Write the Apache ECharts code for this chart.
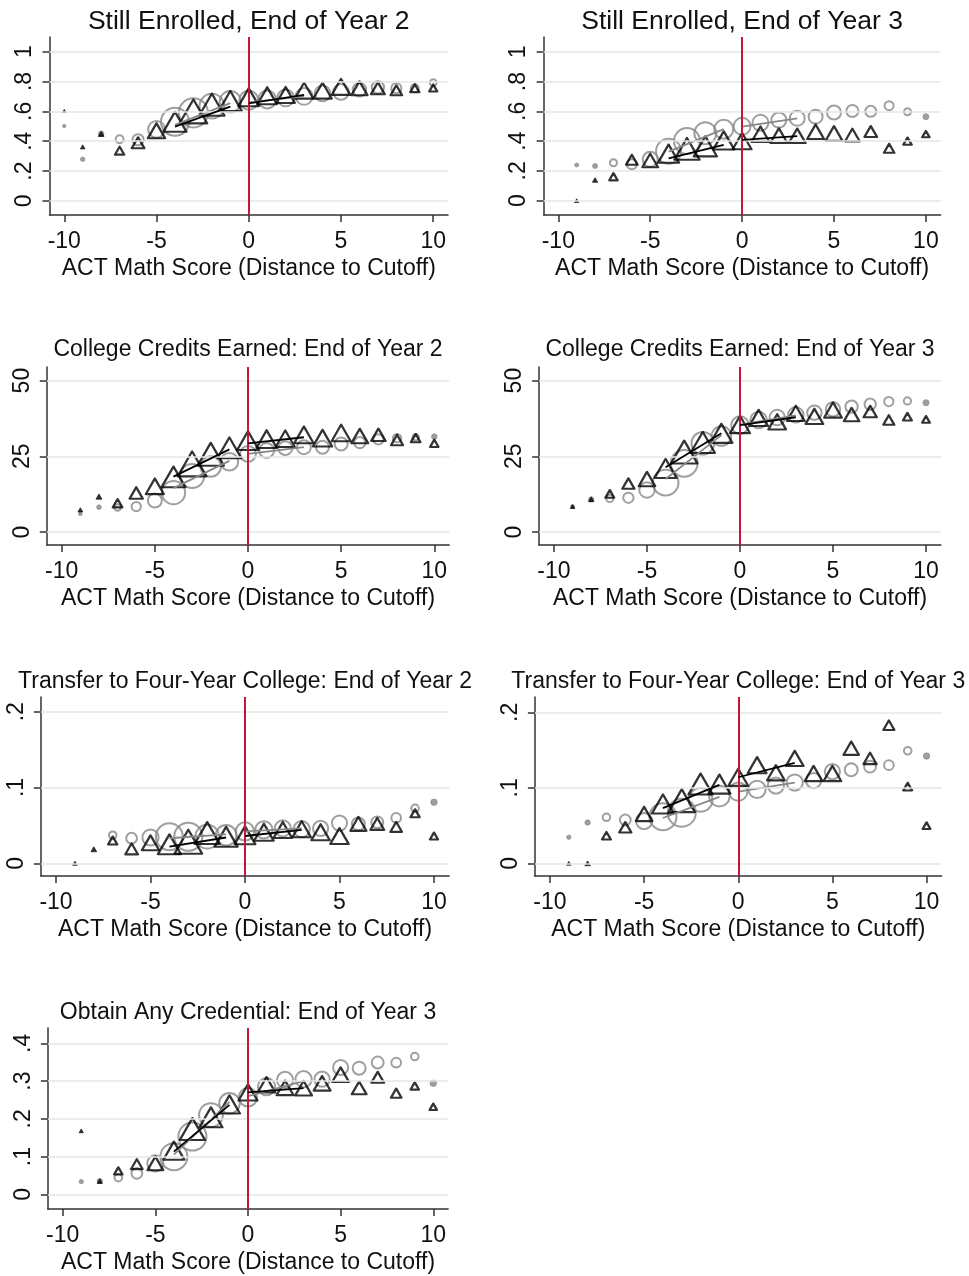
<!DOCTYPE html>
<html><head><meta charset="utf-8">
<script src="https://cdn.jsdelivr.net/npm/echarts@6/dist/echarts.min.js"></script>
<style>html,body{margin:0;padding:0;background:#fff}#c{width:969px;height:1276px}</style>
</head><body><div id="c"></div>
<script>
// ---------------- data ----------------
const xs = [-10,-9,-8,-7,-6,-5,-4,-3,-2,-1,0,1,2,3,4,5,6,7,8,9,10];
const xTicks = [-10,-5,0,5,10];
const xTitle = 'ACT Math Score (Distance to Cutoff)';
const fitX = [-4,-1,0,3];

const titles = [
  'Still Enrolled, End of Year 2',
  'Still Enrolled, End of Year 3',
  'College Credits Earned: End of Year 2',
  'College Credits Earned: End of Year 3',
  'Transfer to Four-Year College: End of Year 2',
  'Transfer to Four-Year College: End of Year 3',
  'Obtain Any Credential: End of Year 3'
];

const yTicksEnroll = [0,0.2,0.4,0.6,0.8,1];
const yLabelsEnroll = ['0','.2','.4','.6','.8','1'];
const yTicksCredits = [0,25,50];
const yLabelsCredits = ['0','25','50'];
const yTicksTransfer = [0,0.1,0.2];
const yLabelsTransfer = ['0','.1','.2'];
const yTicksCred = [0,0.1,0.2,0.3,0.4];
const yLabelsCred = ['0','.1','.2','.3','.4'];

// relative marker sizes (bin weights)
const triW  = [3,4,5,8,11,15,20,24,22,20,18,17,16,16,16,16,14,12,10,8,7];
const circW = [3,4,5,7,10,15,25,26,22,19,17,16,15,15,14,14,12,11,9,7,6];

// Panel 1: Still enrolled, Y2
const triY1  = [0.603,0.362,0.449,0.337,0.39,0.47,0.53,0.60,0.645,0.67,0.695,0.705,0.71,0.739,0.739,0.764,0.755,0.755,0.741,0.755,0.757];
const circY1 = [0.502,0.279,0.45,0.413,0.41,0.48,0.53,0.59,0.635,0.665,0.675,0.68,0.69,0.70,0.72,0.73,0.745,0.761,0.755,0.755,0.792];
const fitTri1 = [0.498,0.632,0.654,0.71];
const fitCirc1 = [0.51,0.655,0.66,0.70];
// Panel 2: Still enrolled, Y3
const triY2  = [null,0.0,0.139,0.161,0.275,0.27,0.316,0.348,0.365,0.405,0.40,0.447,0.437,0.436,0.463,0.452,0.441,0.465,0.352,0.40,0.447];
const circY2 = [null,0.24,0.233,0.255,0.245,0.278,0.332,0.40,0.452,0.48,0.499,0.523,0.541,0.553,0.564,0.592,0.602,0.60,0.638,0.597,0.564];
const fitTri2 = [0.284,0.374,0.408,0.434];
const fitCirc2 = [0.33,0.48,0.497,0.553];
// Panel 3: Credits, Y2
const triY3  = [null,7.3,11.7,9.5,12.9,15.1,18.2,22.5,25.7,27.8,30.2,30.7,30.8,32.1,31.0,32.7,31.7,32.1,30.4,31.0,29.3];
const circY3 = [null,6.0,8.2,8.1,8.4,10.4,13.0,18.5,21.6,23.2,25.8,26.9,27.7,28.0,28.0,29.1,29.5,30.6,31.0,31.3,31.5];
const fitTri3 = [18.3,27.3,29.3,31.3];
const fitCirc3 = [14.5,23.5,25.8,28.0];
// Panel 4: Credits, Y3
const triY4  = [null,8.4,10.8,12.6,16.0,17.5,21.0,26.4,29.6,32.6,35.5,37.7,36.4,39.2,38.2,40.3,38.8,39.8,37.0,38.1,37.2];
const circY4 = [null,8.4,10.8,11.1,11.3,13.9,16.3,22.7,29.3,31.7,35.3,37.0,37.8,38.7,39.4,40.5,41.4,42.2,43.1,43.3,42.7];
const fitTri4 = [21.4,32.6,35.3,37.9];
const fitCirc4 = [17.5,32.0,35.5,38.5];
// Panel 5: Transfer, Y2
const triY5  = [null,0.0,0.0185,0.030,0.019,0.027,0.025,0.0285,0.040,0.035,0.037,0.041,0.044,0.045,0.041,0.036,0.052,0.052,0.048,0.066,0.036];
const circY5 = [null,null,null,0.037,0.033,0.034,0.035,0.035,0.035,0.037,0.042,0.044,0.046,0.045,0.046,0.053,0.052,0.054,0.060,0.0725,0.0805];
const fitTri5 = [0.022,0.034,0.036,0.044];
const fitCirc5 = [0.033,0.038,0.042,0.046];
// Panel 6: Transfer, Y3
const triY6  = [null,0.0,0.0,0.0366,0.0477,0.0654,0.0786,0.083,0.105,0.105,0.114,0.130,0.120,0.139,0.119,0.119,0.1525,0.139,0.183,0.1016,0.050];
const circY6 = [null,0.0345,0.054,0.061,0.0574,0.056,0.0618,0.067,0.084,0.089,0.095,0.098,0.103,0.107,0.1095,0.1215,0.124,0.128,0.130,0.149,0.142];
const fitTri6 = [0.073,0.104,0.114,0.133];
const fitCirc6 = [0.06,0.088,0.095,0.107];
// Panel 7: Any credential, Y3
const triY7  = [null,0.168,0.035,0.062,0.080,0.082,0.1157,0.173,0.204,0.238,0.270,0.290,0.282,0.281,0.294,0.317,0.282,0.310,0.268,0.287,0.232];
const circY7 = [null,0.0335,0.035,0.044,0.0556,0.082,0.0998,0.153,0.21,0.241,0.257,0.285,0.303,0.305,0.305,0.336,0.334,0.349,0.349,0.365,0.294];
const fitTri7 = [0.113,0.237,0.27,0.281];
const fitCirc7 = [0.105,0.245,0.26,0.30];

// ---------------- layout / style ----------------
const layout = [
  {left:49.5, top:37,   width:398.5, height:178, yMin:-0.094, yMax:1.098, titleSize:26.5, titleTop:8,    triScale:1.15, circScale:1.12},
  {left:543.6,top:37,   width:397,   height:178, yMin:-0.096, yMax:1.099, titleSize:26.5, titleTop:8,    triScale:1.05, circScale:1.0},
  {left:46.8, top:367,  width:402.4, height:178, yMin:-4.3,   yMax:54.5,  titleSize:23,   titleTop:338,  triScale:1.2,  circScale:0.93},
  {left:539.1,top:367,  width:401.8, height:178, yMin:-4.3,   yMax:54.5,  titleSize:23,   titleTop:338,  triScale:1.1,  circScale:1.03},
  {left:40.9, top:697,  width:408.2, height:179, yMin:-0.0168,yMax:0.2194,titleSize:23,   titleTop:670,  triScale:1.15, circScale:1.08},
  {left:534.9,top:697,  width:406.7, height:179, yMin:-0.0168,yMax:0.2203,titleSize:23,   titleTop:670,  triScale:1.1,  circScale:1.08},
  {left:47.9, top:1028, width:400.2, height:181, yMin:-0.0389,yMax:0.4405,titleSize:23,   titleTop:1001, triScale:1.05, circScale:1.08}
];
const panels = [
  {tri:triY1, circ:circY1, fitTri:fitTri1, fitCirc:fitCirc1, yTicks:yTicksEnroll,   yLabels:yLabelsEnroll},
  {tri:triY2, circ:circY2, fitTri:fitTri2, fitCirc:fitCirc2, yTicks:yTicksEnroll,   yLabels:yLabelsEnroll},
  {tri:triY3, circ:circY3, fitTri:fitTri3, fitCirc:fitCirc3, yTicks:yTicksCredits,  yLabels:yLabelsCredits},
  {tri:triY4, circ:circY4, fitTri:fitTri4, fitCirc:fitCirc4, yTicks:yTicksCredits,  yLabels:yLabelsCredits},
  {tri:triY5, circ:circY5, fitTri:fitTri5, fitCirc:fitCirc5, yTicks:yTicksTransfer, yLabels:yLabelsTransfer},
  {tri:triY6, circ:circY6, fitTri:fitTri6, fitCirc:fitCirc6, yTicks:yTicksTransfer, yLabels:yLabelsTransfer},
  {tri:triY7, circ:circY7, fitTri:fitTri7, fitCirc:fitCirc7, yTicks:yTicksCred,     yLabels:yLabelsCred}
];

const FONT = '"Liberation Sans", Arial, Helvetica, sans-serif';
const TXT = '#111';
const AXIS = '#333';
const GRAY = '#878787';
const RED = '#c8153d';

function scatterData(ys, widths, scale, shape, color, bw) {
  const out = [];
  xs.forEach((x, i) => {
    const y = ys[i];
    if (y == null) return;
    const w = widths[i] * scale;
    const small = w < 6.5;
    out.push({
      value: [x, y],
      symbol: shape,
      symbolSize: shape === 'triangle' ? [w, w * 0.87] : w,
      itemStyle: {
        color: small ? color : 'rgba(0,0,0,0)',
        borderColor: color,
        borderWidth: small ? 0.8 : bw,
        borderJoin: 'round'
      }
    });
  });
  return out;
}

const option = {
  animation: false,
  backgroundColor: '#fff',
  title: [], grid: [], xAxis: [], yAxis: [], series: []
};

panels.forEach((p, i) => {
  const L = layout[i];
  option.title.push({
    text: titles[i],
    left: L.left + L.width / 2,
    top: L.titleTop,
    padding: 0,
    textAlign: 'center',
    textStyle: {fontFamily: FONT, fontSize: L.titleSize, fontWeight: 'normal', color: TXT}
  });
  option.grid.push({left: L.left, top: L.top, width: L.width, height: L.height});
  option.xAxis.push({
    type: 'value', gridIndex: i, min: -10.8, max: 10.8,
    name: xTitle, nameLocation: 'middle', nameGap: 42,
    nameTextStyle: {fontFamily: FONT, fontSize: 23, color: TXT},
    axisLine: {show: true, onZero: false, lineStyle: {color: AXIS, width: 1.5}},
    axisTick: {show: true, customValues: xTicks, length: 7, lineStyle: {color: AXIS, width: 1.5}},
    axisLabel: {customValues: xTicks, fontFamily: FONT, fontSize: 23, color: TXT, margin: 15,
                formatter: v => String(v)},
    splitLine: {show: false}
  });
  option.yAxis.push({
    type: 'value', gridIndex: i, min: L.yMin, max: L.yMax,
    axisLine: {show: true, onZero: false, lineStyle: {color: AXIS, width: 1.5}},
    axisTick: {show: true, customValues: p.yTicks, length: 7, lineStyle: {color: AXIS, width: 1.5}},
    axisLabel: {customValues: p.yTicks, rotate: 90, fontFamily: FONT, fontSize: 23, color: TXT, margin: 13,
                formatter: v => {
                  const k = p.yTicks.findIndex(t => Math.abs(t - v) < 1e-9);
                  return k >= 0 ? p.yLabels[k] : '';
                }},
    splitLine: {show: false}
  });
  // gridlines
  option.series.push({
    type: 'line', xAxisIndex: i, yAxisIndex: i, data: [], z: 1, silent: true,
    markLine: {silent: true, symbol: ['none','none'], label: {show: false},
      lineStyle: {color: '#e6e6e6', width: 1.5, type: 'solid'},
      data: p.yTicks.map(v => ({yAxis: v}))}
  });
  // circles
  option.series.push({
    type: 'scatter', xAxisIndex: i, yAxisIndex: i, z: 2, silent: true,
    data: scatterData(p.circ, circW, L.circScale, 'circle', GRAY, 2)
  });
  // triangles
  option.series.push({
    type: 'scatter', xAxisIndex: i, yAxisIndex: i, z: 3, silent: true,
    data: scatterData(p.tri, triW, L.triScale, 'triangle', '#000', 2.2)
  });
  // fitted lines
  [[0,1],[2,3]].forEach(([a, b]) => {
    option.series.push({
      type: 'line', xAxisIndex: i, yAxisIndex: i, z: 4, silent: true, showSymbol: false,
      lineStyle: {color: GRAY, width: 1.8},
      data: [[fitX[a], p.fitCirc[a]], [fitX[b], p.fitCirc[b]]]
    });
    option.series.push({
      type: 'line', xAxisIndex: i, yAxisIndex: i, z: 5, silent: true, showSymbol: false,
      lineStyle: {color: '#000', width: 1.8},
      data: [[fitX[a], p.fitTri[a]], [fitX[b], p.fitTri[b]]]
    });
  });
  // cutoff line
  option.series.push({
    type: 'line', xAxisIndex: i, yAxisIndex: i, data: [], z: 6, silent: true,
    markLine: {silent: true, symbol: ['none','none'], label: {show: false},
      lineStyle: {color: RED, width: 2, type: 'solid'},
      data: [{xAxis: 0}]}
  });
});

const chart = echarts.init(document.getElementById('c'), null, {renderer: 'canvas'});
chart.setOption(option);
</script>
</body></html>
